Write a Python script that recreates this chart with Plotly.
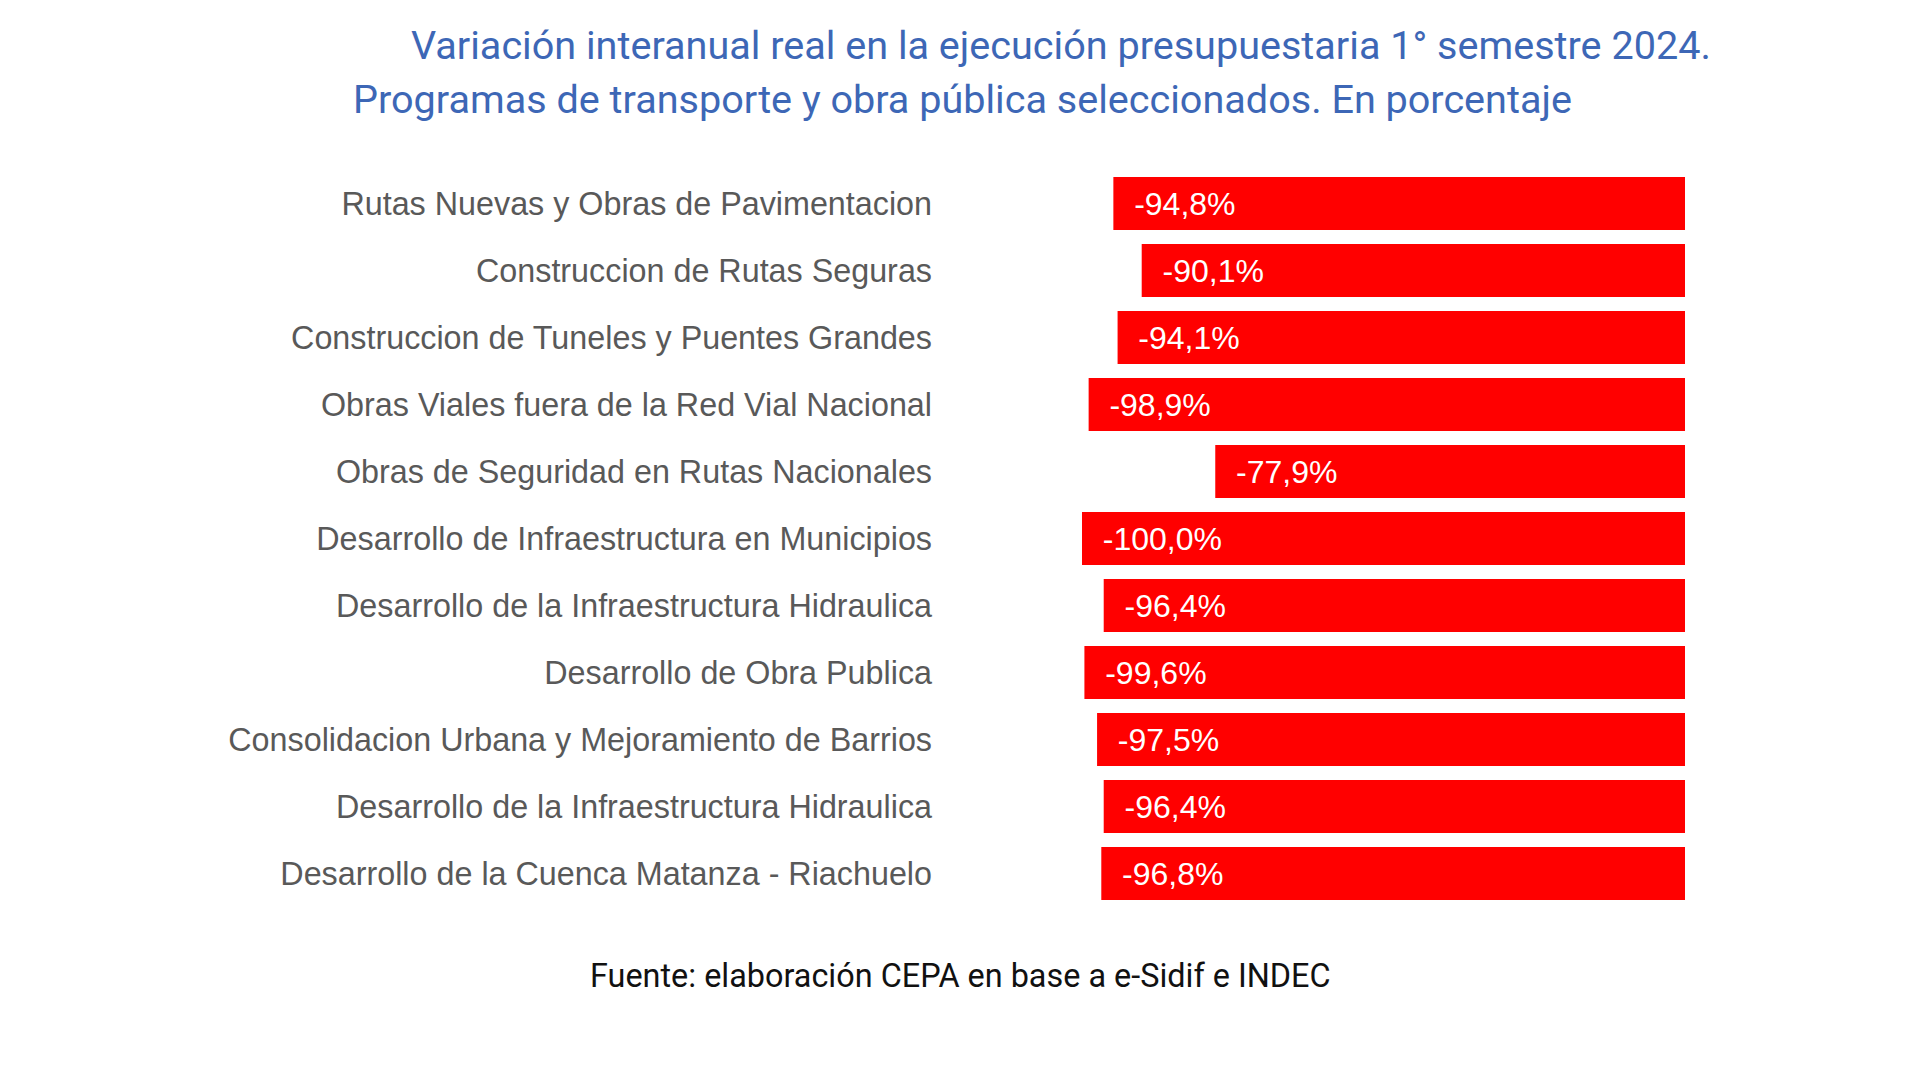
import plotly.graph_objects as go

categories = [
    "Rutas Nuevas y Obras de Pavimentacion",
    "Construccion de Rutas Seguras",
    "Construccion de Tuneles y Puentes Grandes",
    "Obras Viales fuera de la Red Vial Nacional",
    "Obras de Seguridad en Rutas Nacionales",
    "Desarrollo de Infraestructura en Municipios",
    "Desarrollo de la Infraestructura Hidraulica",
    "Desarrollo de Obra Publica",
    "Consolidacion Urbana y Mejoramiento de Barrios",
    "Desarrollo de la Infraestructura Hidraulica",
    "Desarrollo de la Cuenca Matanza - Riachuelo",
]
values = [-94.8, -90.1, -94.1, -98.9, -77.9, -100.0, -96.4, -99.6, -97.5, -96.4, -96.8]

title_line1 = "Variación interanual real en la ejecución presupuestaria 1° semestre 2024."
title_line2 = "Programas de transporte y obra pública seleccionados. En porcentaje"
source = "Fuente: elaboración CEPA en base a e-Sidif e INDEC"

positions = list(range(len(categories)))

# page has default 8px body margin
OFF = 8
W, H = 1904, 1063
L, R, T, B = 1074, 227, 162, 164
PW, PH = W - L - R, H - T - B


def px(x_page):
    return (x_page - OFF - L) / PW


def py(y_page):
    return 1 - (y_page - OFF - T) / PH


fig = go.Figure(go.Bar(
    x=values,
    y=positions,
    orientation="h",
    marker=dict(color="#ff0000", line=dict(width=0)),
    width=0.79,
    texttemplate="\u00a0\u00a0%{x:.1f}%",
    textposition="inside",
    insidetextanchor="end",
    textfont=dict(family="Liberation Sans, Arial", size=32, color="white"),
    hoverinfo="skip",
))

fig.update_layout(
    width=W, height=H,
    margin=dict(l=L, r=R, t=T, b=B),
    paper_bgcolor="white", plot_bgcolor="white",
    separators=",.",
    showlegend=False,
    xaxis=dict(range=[-100, 0], visible=False, fixedrange=True),
    yaxis=dict(
        tickvals=positions, ticktext=categories,
        autorange="reversed",
        showgrid=False, zeroline=False, showline=False, ticks="",
        ticklabelstandoff=149,
        tickfont=dict(family="Liberation Sans, Arial", size=32.3, color="#595959"),
    ),
    annotations=[
        dict(text=title_line1, xref="paper", yref="paper", x=px(408.5), y=py(46),
             xanchor="left", yanchor="middle", showarrow=False,
             font=dict(family="Roboto", size=39.6, color="#3d67b6")),
        dict(text=title_line2, xref="paper", yref="paper", x=px(350.5), y=py(100),
             xanchor="left", yanchor="middle", showarrow=False,
             font=dict(family="Roboto", size=39.6, color="#3d67b6")),
        dict(text=source, xref="paper", yref="paper", x=px(960), y=py(976),
             xanchor="center", yanchor="middle", showarrow=False,
             font=dict(family="Roboto", size=32.4, color="#111111")),
    ],
)

fig.write_html("out.html")
